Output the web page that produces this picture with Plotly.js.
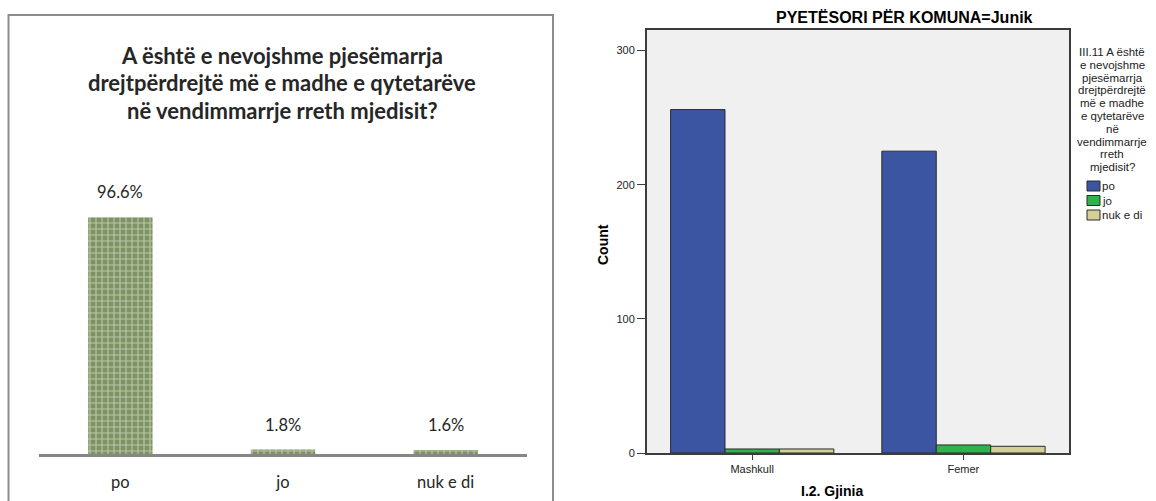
<!DOCTYPE html>
<html>
<head>
<meta charset="utf-8">
<script src="https://cdn.plot.ly/plotly-3.0.1.min.js"></script>
<style>html,body{margin:0;padding:0;background:#fff;}#chart{width:1156px;height:501px;}</style>
</head>
<body>
<div id="chart"></div>
<script>
// ---- Left chart data (percentages) ----
const answerCategories = ['po', 'jo', 'nuk e di'];
const answerPercent = [96.6, 1.8, 1.6];
const leftTitleLines = ['A është e nevojshme pjesëmarrja', 'drejtpërdrejtë më e madhe e qytetarëve', 'në vendimmarrje rreth mjedisit?'];

// ---- Right chart data (counts by gender) ----
const genderCategories = ['Mashkull', 'Femer'];
const seriesNames = ['po', 'jo', 'nuk e di'];
const countPo = [256, 225];
const countJo = [3, 6];
const countNukEdi = [3, 5];
const rightTitle = 'PYETËSORI PËR KOMUNA=Junik';
const legendTitleLines = ['III.11 A është', 'e nevojshme', 'pjesëmarrja', 'drejtpërdrejtë', 'më e madhe', 'e qytetarëve', 'në', 'vendimmarrje', 'rreth', 'mjedisit?'];
const yTickVals = [0, 100, 200, 300];
const xTitle = 'I.2. Gjinia';
const yTitle = 'Count';

const W = 1156, H = 501;
const px = v => v / W;
const py = v => 1 - v / H;

const seriesColors = ['#3b55a2', '#2fb34a', '#d4cf97'];
const seriesValues = [countPo, countJo, countNukEdi];
const barW = 0.2576;
const offsets = [-0.386, -0.1284, 0.1292];

const calibriLike = 'Lato, "Open Sans", sans-serif';
const arialLike = '"Liberation Sans", Arial, sans-serif';

const traces = [];
traces.push({
  type: 'bar', x: answerCategories, y: answerPercent, xaxis: 'x', yaxis: 'y',
  width: 0.396, offset: -0.198, showlegend: false, hoverinfo: 'skip',
  marker: { color: '#7e9363', line: { width: 0 },
    pattern: { shape: '+', fgcolor: '#f4f7ee', bgcolor: '#7e9363', size: 6, solidity: 0.35, fillmode: 'overlay' } }
});
seriesNames.forEach((n, i) => {
  traces.push({
    type: 'bar', name: n, x: genderCategories, y: seriesValues[i], xaxis: 'x2', yaxis: 'y2',
    width: barW, offset: offsets[i], showlegend: false,
    marker: { color: seriesColors[i], line: { color: '#2b2b2b', width: 1 } }
  });
});

const annotations = [];
const shapes = [
  { type: 'rect', xref: 'paper', yref: 'paper', x0: px(8.5), x1: px(553), y0: py(515), y1: py(15),
    line: { color: '#8c8c8c', width: 2 }, fillcolor: 'rgba(0,0,0,0)', layer: 'below' },
  { type: 'rect', xref: 'x2 domain', yref: 'y2 domain', x0: 0, x1: 1, y0: 0, y1: 1,
    line: { width: 0 }, fillcolor: '#f0f0f0', layer: 'below' }
];

// left title (one annotation per line)
leftTitleLines.forEach((t, i) => {
  annotations.push({ xref: 'paper', yref: 'paper', x: px(282), y: py(55 + i * 27.5), xanchor: 'center', yanchor: 'middle',
    text: '<b>' + t + '</b>', showarrow: false,
    font: { family: calibriLike, size: 22, color: '#262626' } });
});
// left value labels
answerCategories.forEach((c, i) => {
  annotations.push({ xref: 'x', yref: 'y', x: c, y: answerPercent[i], yanchor: 'bottom', yshift: 13,
    text: answerPercent[i].toFixed(1) + '%', showarrow: false,
    font: { family: calibriLike, size: 16.5, color: '#262626' } });
});
// right title
annotations.push({ xref: 'paper', yref: 'paper', x: px(905), y: py(17), xanchor: 'center', yanchor: 'middle',
  text: '<b>' + rightTitle + '</b>', showarrow: false,
  font: { family: arialLike, size: 16, color: '#000' } });
// legend title lines
legendTitleLines.forEach((t, i) => {
  annotations.push({ xref: 'paper', yref: 'paper', x: px(1112), y: py(52 + i * 12.8), xanchor: 'center', yanchor: 'middle',
    text: t, showarrow: false, borderpad: 0,
    font: { family: arialLike, size: 11.5, color: '#222' } });
});
// legend items
seriesNames.forEach((n, i) => {
  const yc = 186 + i * 14.5;
  shapes.push({ type: 'rect', xref: 'paper', yref: 'paper', x0: px(1087), x1: px(1100), y0: py(yc + 5), y1: py(yc - 5),
    fillcolor: seriesColors[i], line: { color: '#2b2b2b', width: 1 } });
  annotations.push({ xref: 'paper', yref: 'paper', x: px(1101), y: py(yc), xanchor: 'left', yanchor: 'middle',
    text: n, showarrow: false, borderpad: 0, font: { family: arialLike, size: 11.5, color: '#222' } });
});
// axis titles
annotations.push({ xref: 'paper', yref: 'paper', x: px(603), y: py(245), xanchor: 'center', yanchor: 'middle',
  text: '<b>' + yTitle + '</b>', textangle: -90, showarrow: false,
  font: { family: arialLike, size: 14, color: '#000' } });
annotations.push({ xref: 'paper', yref: 'paper', x: px(832), y: py(491), xanchor: 'center', yanchor: 'middle',
  text: '<b>' + xTitle + '</b>', showarrow: false,
  font: { family: arialLike, size: 14, color: '#000' } });

const layout = {
  width: W, height: H,
  margin: { l: 0, r: 0, t: 0, b: 0 },
  paper_bgcolor: '#ffffff', plot_bgcolor: 'rgba(0,0,0,0)',
  barmode: 'group',
  showlegend: false,
  xaxis: { domain: [px(39), px(527)], anchor: 'y', type: 'category', showgrid: false, zeroline: false,
    showline: true, linecolor: '#868686', linewidth: 2.5, ticks: '', ticklabelstandoff: 12,
    tickfont: { family: calibriLike, size: 16.5, color: '#262626' }, fixedrange: true },
  yaxis: { domain: [1 - 454 / H, 1 - 160 / H], anchor: 'x', range: [0, 120], visible: false, fixedrange: true },
  xaxis2: { domain: [px(646.5), px(1069)], anchor: 'y2', type: 'category', showgrid: false, zeroline: false,
    showline: true, mirror: true, linecolor: '#3c3c3c', linewidth: 1.5, ticks: 'outside', ticklen: 5,
    tickcolor: '#3c3c3c', tickfont: { family: arialLike, size: 11, color: '#222' }, fixedrange: true },
  yaxis2: { domain: [1 - 453 / H, 1 - 29.5 / H], anchor: 'x2', range: [0, 315.7], tickvals: yTickVals,
    showgrid: false, zeroline: false, showline: true, mirror: true, linecolor: '#3c3c3c', linewidth: 1.5,
    ticks: 'outside', ticklen: 8, tickcolor: '#3c3c3c',
    tickfont: { family: arialLike, size: 11, color: '#222' }, fixedrange: true },
  annotations: annotations,
  shapes: shapes
};

Plotly.newPlot('chart', traces, layout, { displayModeBar: false, staticPlot: true });
</script>
</body>
</html>
